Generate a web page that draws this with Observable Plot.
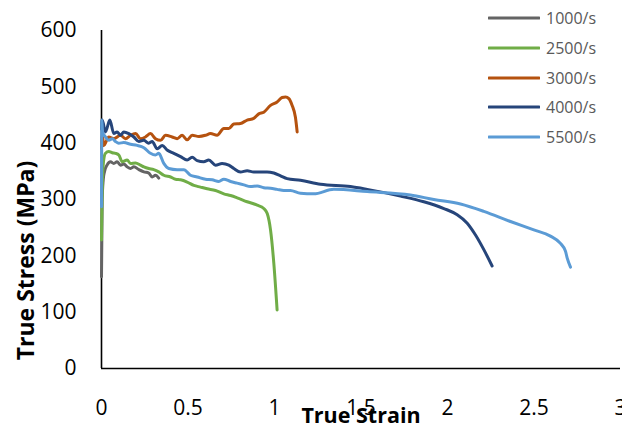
<!DOCTYPE html>
<html>
<head>
<meta charset="utf-8">
<script src="https://cdn.jsdelivr.net/npm/d3@7"></script>
<script src="https://cdn.jsdelivr.net/npm/@observablehq/plot@0.6"></script>
<style>
  body { margin: 0; background: #fff; }
  #wrap { position: relative; width: 622px; height: 430px; font-family: "Open Sans", sans-serif; }
  #legend { position: absolute; left: 488px; top: 0; width: 134px; height: 150px; }
  .item { position: absolute; left: 0; height: 20px; display: flex; align-items: center; }
  .item svg { display: block; }
  .item span { margin-left: 6px; font-size: 16px; color: #595959; line-height: 20px; }
</style>
</head>
<body>
<div id="wrap"><div id="chart"></div><div id="legend"></div></div>
<script>
const seriesNames = ["1000/s", "2500/s", "3000/s", "4000/s", "5500/s"];
const seriesColors = ["#646464", "#70ad47", "#b5520f", "#26457a", "#5b9bd5"];
const xTicks = [0, 0.5, 1, 1.5, 2, 2.5, 3];
const yTicks = [0, 100, 200, 300, 400, 500, 600];

const strain1000 = [0, 0.004, 0.01, 0.017, 0.032, 0.052, 0.071, 0.09, 0.11, 0.129, 0.148, 0.168, 0.187, 0.216, 0.245, 0.273, 0.293, 0.312, 0.331];
const stress1000 = [163, 300, 335, 349, 361, 367, 364, 367, 361, 363, 358, 355, 358, 353, 349, 347, 340, 343, 338];

const strain2500 = [0, 0.006, 0.015, 0.023, 0.042, 0.062, 0.081, 0.1, 0.12, 0.148, 0.168, 0.197, 0.225, 0.245, 0.273, 0.302, 0.331, 0.36, 0.399, 0.428, 0.457, 0.495, 0.534, 0.572, 0.611, 0.659, 0.707, 0.746, 0.784, 0.842, 0.9, 0.938, 0.958, 0.977, 0.996, 1.015];
const stress2500 = [228, 340, 375, 382, 385, 383, 382, 379, 367, 370, 364, 365, 361, 358, 355, 353, 349, 343, 340, 336, 335, 331, 325, 322, 319, 316, 310, 307, 303, 296, 290, 284, 275, 246, 187, 104];

const strain3000 = [0, 0.005, 0.013, 0.042, 0.071, 0.11, 0.139, 0.168, 0.197, 0.225, 0.254, 0.283, 0.312, 0.341, 0.37, 0.408, 0.437, 0.466, 0.495, 0.524, 0.563, 0.601, 0.63, 0.668, 0.707, 0.736, 0.765, 0.803, 0.842, 0.88, 0.909, 0.938, 0.977, 1.015, 1.044, 1.064, 1.083, 1.102, 1.121, 1.131];
const stress3000 = [390, 415, 396, 411, 408, 414, 408, 414, 417, 408, 411, 417, 408, 405, 414, 411, 408, 414, 406, 414, 412, 414, 417, 414, 426, 426, 434, 435, 441, 444, 452, 455, 467, 473, 481, 482, 479, 467, 446, 420];

const strain4000 = [0, 0.004, 0.023, 0.048, 0.071, 0.09, 0.11, 0.129, 0.158, 0.187, 0.216, 0.245, 0.273, 0.293, 0.322, 0.351, 0.379, 0.418, 0.457, 0.495, 0.524, 0.553, 0.591, 0.62, 0.659, 0.697, 0.736, 0.765, 0.803, 0.842, 0.88, 0.919, 0.957, 0.996, 1.035, 1.073, 1.15, 1.266, 1.439, 1.536, 1.728, 1.863, 1.979, 2.056, 2.114, 2.162, 2.21, 2.258];
const stress4000 = [425, 441, 420, 441, 417, 420, 414, 420, 417, 411, 403, 405, 400, 403, 390, 396, 388, 382, 376, 370, 375, 369, 367, 370, 361, 364, 361, 355, 349, 351, 349, 349, 349, 347, 342, 337, 334, 327, 323, 318, 306, 296, 284, 273, 258, 237, 211, 182];

const strain5500 = [0, 0.002, 0.006, 0.023, 0.042, 0.062, 0.081, 0.1, 0.129, 0.168, 0.206, 0.245, 0.283, 0.312, 0.331, 0.36, 0.389, 0.437, 0.476, 0.514, 0.553, 0.601, 0.64, 0.678, 0.707, 0.746, 0.784, 0.823, 0.861, 0.9, 0.938, 0.977, 1.015, 1.054, 1.092, 1.15, 1.227, 1.343, 1.536, 1.786, 1.921, 2.075, 2.21, 2.364, 2.499, 2.595, 2.653, 2.682, 2.692, 2.711];
const stress5500 = [287, 441, 420, 411, 405, 408, 403, 400, 401, 398, 396, 392, 382, 379, 382, 364, 355, 353, 353, 343, 340, 336, 335, 332, 336, 332, 329, 326, 323, 324, 321, 320, 318, 316, 316, 311, 310, 318, 314, 308, 300, 292, 279, 261, 246, 235, 222, 208, 196, 180];

const strains = [strain1000, strain2500, strain3000, strain4000, strain5500];
const stresses = [stress1000, stress2500, stress3000, stress4000, stress5500];

const rows = seriesNames.flatMap((name, i) =>
  strains[i].map((x, j) => ({ series: name, strain: x, stress: stresses[i][j] })));

const chart = Plot.plot({
  width: 622,
  height: 430,
  marginLeft: 101,
  marginRight: 2,
  marginTop: 30,
  marginBottom: 62,
  style: { fontFamily: "Open Sans, sans-serif", fontSize: "21px", color: "#000", background: "#fff", overflow: "visible" },
  x: { domain: [0, 3] },
  y: { domain: [0, 600] },
  color: { domain: seriesNames, range: seriesColors },
  marks: [
    Plot.axisX({ ticks: xTicks, tickSize: 0, tickPadding: 32, label: null, tickFormat: d => String(d), fontSize: 21 }),
    Plot.axisY({ ticks: yTicks, tickSize: 0, tickPadding: 25, label: null, tickFormat: d => String(d), fontSize: 21 }),
    Plot.ruleX([0], { stroke: "#000", strokeWidth: 1.6 }),
    Plot.ruleY([0], { stroke: "#000", strokeWidth: 1.6 }),
    Plot.line(rows, { x: "strain", y: "stress", z: "series", stroke: "series", strokeWidth: 3, curve: "monotone-x", strokeLinejoin: "round", strokeLinecap: "round" }),
    Plot.text(["True Stress (MPa)"], { frameAnchor: "left", textAnchor: "middle", rotate: -90, dx: -75, dy: 61, fontWeight: "bold", fontSize: 23, fill: "#000" }),
    Plot.text(["True Strain"], { frameAnchor: "bottom", dy: 54, fontWeight: "bold", fontSize: 21.5, fill: "#000" })
  ]
});
document.getElementById("chart").appendChild(chart);

const legend = document.getElementById("legend");
seriesNames.forEach((name, i) => {
  const item = document.createElement("div");
  item.className = "item";
  item.style.top = (8.3 + i * 29.7) + "px";
  item.innerHTML = `<svg width="52" height="20"><line x1="1" x2="51" y1="10" y2="10" stroke="${seriesColors[i]}" stroke-width="3" stroke-linecap="round"/></svg><span>${name}</span>`;
  legend.appendChild(item);
});
</script>
</body>
</html>
